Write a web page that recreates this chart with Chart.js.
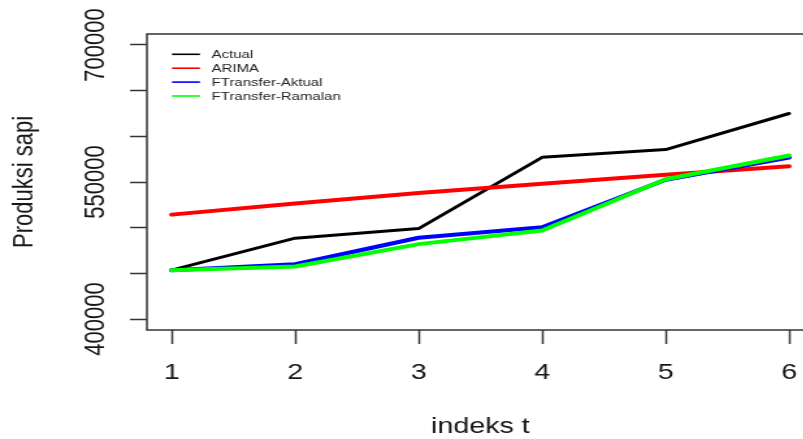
<!DOCTYPE html>
<html>
<head>
<meta charset="utf-8">
<script src="https://cdn.jsdelivr.net/npm/chart.js@4.4.1/dist/chart.umd.min.js"></script>
<style>
  html, body { margin: 0; padding: 0; background: #fff; }
  #outer { width: 803px; height: 439px; overflow: hidden; position: relative; }
  #wrap { width: 640px; height: 439px; transform: scaleX(1.3); transform-origin: 0 0; }
  canvas { display: block; }
</style>
</head>
<body>
<div id="outer"><div id="wrap"><canvas id="c" width="640" height="439"></canvas></div></div>
<script>
// ---- data ----
const indeks = [1, 2, 3, 4, 5, 6];
const actual = [453500, 488500, 499000, 577000, 585500, 625000];
const arima = [514300, 526500, 538000, 548000, 558000, 567200];
const ftAktual = [453500, 460000, 489000, 500500, 552500, 576800];
const ftRamalan = [453500, 457500, 482000, 496800, 553000, 579000];

const seriesNames = ['Actual', 'ARIMA', 'FTransfer-Aktual', 'FTransfer-Ramalan'];
const seriesColors = ['#000000', '#ff0000', '#0000ff', '#00ff00'];

const xTicks = [1, 2, 3, 4, 5, 6];
const yTicks = [400000, 450000, 500000, 550000, 600000, 650000, 700000];
const yTickLabels = ['400000', '', '', '550000', '', '', '700000'];

const xTitle = 'indeks t';
const yTitle = 'Produksi sapi';

// ---- build ----
const toPts = arr => indeks.map((x, i) => ({ x: x, y: arr[i] }));
const seriesValues = [actual, arima, ftAktual, ftRamalan];
const widths = [3, 4, 4, 4];
const datasets = seriesValues.map((vals, i) => ({
  label: seriesNames[i],
  data: toPts(vals),
  borderColor: seriesColors[i],
  backgroundColor: seriesColors[i],
  borderWidth: widths[i],
  pointRadius: 0,
  tension: 0,
  fill: false,
  borderCapStyle: 'round',
  borderJoinStyle: 'round',
  order: seriesValues.length - i
}));

const FONT = '"Liberation Sans", Arial, Helvetica, sans-serif';
const TXT = '#161616';

const rPlot = {
  id: 'rPlot',
  afterDraw(chart) {
    const ctx = chart.ctx;
    const a = chart.chartArea;
    const xs = chart.scales.x, ys = chart.scales.y;
    ctx.save();
    // box
    ctx.strokeStyle = '#333';
    ctx.lineWidth = 1.5;
    ctx.strokeRect(a.left, a.top, a.right - a.left, a.bottom - a.top);
    // x tick labels
    ctx.fillStyle = TXT;
    ctx.font = '22px ' + FONT;
    ctx.textAlign = 'center';
    ctx.textBaseline = 'alphabetic';
    xTicks.forEach(v => ctx.fillText(String(v), xs.getPixelForValue(v), 379));
    // x title
    ctx.fillText(xTitle, (a.left + a.right) / 2, 433);
    // y tick labels (rotated)
    yTicks.forEach((v, i) => {
      if (!yTickLabels[i]) return;
      ctx.save();
      ctx.translate(79.5, ys.getPixelForValue(v));
      ctx.rotate(-Math.PI / 2);
      ctx.fillText(yTickLabels[i], 0, 0);
      ctx.restore();
    });
    // y title
    ctx.save();
    ctx.translate(25, (a.top + a.bottom) / 2);
    ctx.rotate(-Math.PI / 2);
    ctx.fillText(yTitle, 0, 0);
    ctx.restore();
    // legend
    ctx.font = '11.5px ' + FONT;
    ctx.textAlign = 'left';
    ctx.textBaseline = 'middle';
    chart.data.datasets.forEach((ds, i) => {
      const y = 54.3 + i * 13.9;
      ctx.strokeStyle = ds.borderColor;
      ctx.lineWidth = 1.6;
      ctx.beginPath();
      ctx.moveTo(132.3, y);
      ctx.lineTo(153.8, y);
      ctx.stroke();
      ctx.fillStyle = '#222';
      ctx.fillText(ds.label, 162.8, y + 0.5);
    });
    ctx.restore();
  }
};

new Chart(document.getElementById('c'), {
  type: 'line',
  data: { datasets: datasets },
  options: {
    responsive: false,
    devicePixelRatio: 1,
    animation: false,
    layout: { padding: { left: 0, right: 14, top: 34, bottom: 0 } },
    plugins: { legend: { display: false }, tooltip: { enabled: false } },
    scales: {
      x: {
        type: 'linear',
        min: 0.8,
        max: 6.2,
        afterBuildTicks: s => { s.ticks = xTicks.map(v => ({ value: v })); },
        afterFit: s => { s.height = 109; },
        ticks: { display: false },
        grid: { display: true, drawOnChartArea: false, drawTicks: true, tickLength: 14, tickColor: '#333', tickWidth: 1.5 },
        border: { display: false }
      },
      y: {
        type: 'linear',
        min: 388000,
        max: 712000,
        afterBuildTicks: s => { s.ticks = yTicks.map(v => ({ value: v })); },
        afterFit: s => { s.width = 113; },
        ticks: { display: false },
        grid: { display: true, drawOnChartArea: false, drawTicks: true, tickLength: 13, tickColor: '#333', tickWidth: 1.5 },
        border: { display: false }
      }
    }
  },
  plugins: [rPlot]
});
</script>
</body>
</html>
